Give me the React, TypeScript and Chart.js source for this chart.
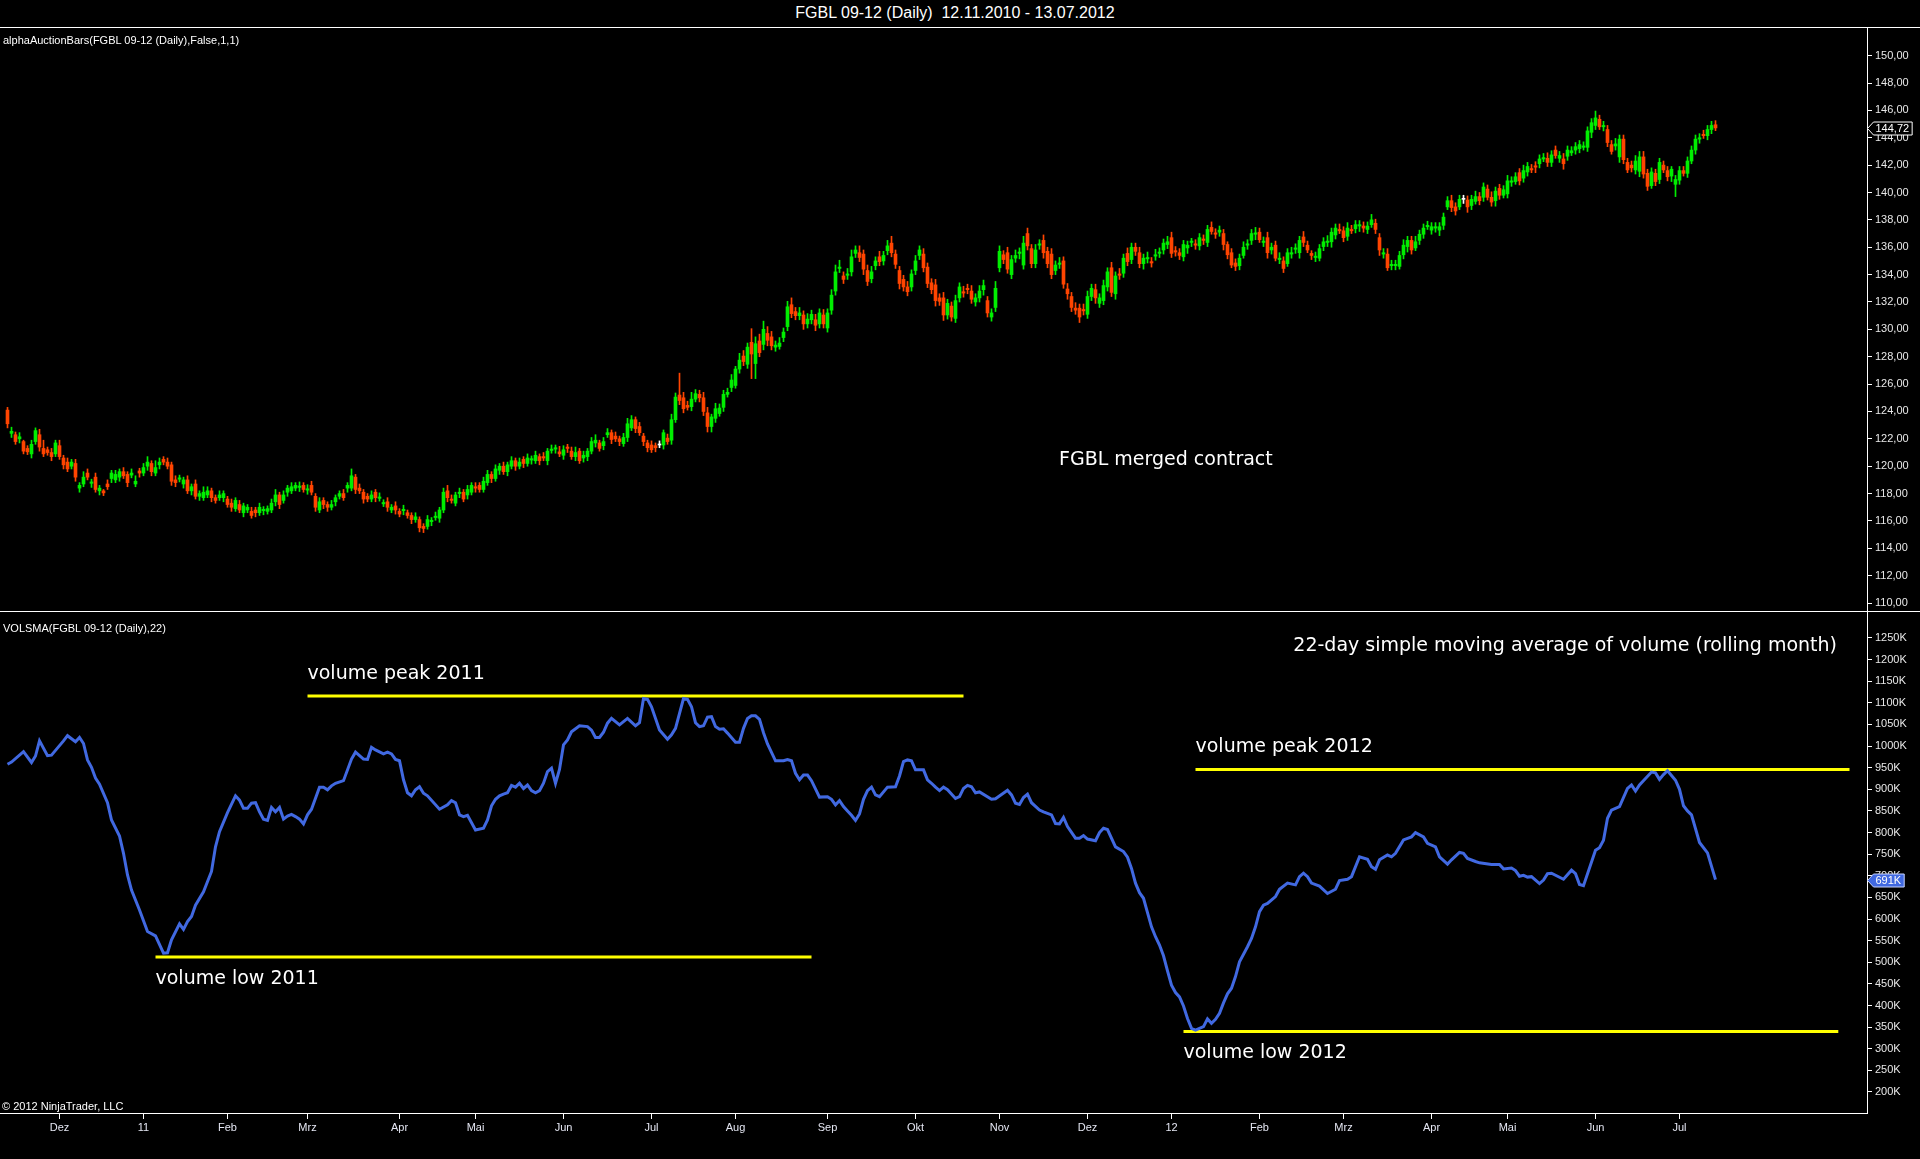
import React, { useEffect, useRef } from 'react';
import { Chart, registerables } from 'chart.js';

Chart.register(...registerables);

// trading days per month, Nov 2010 (from the 12th) .. Jul 2012 (to the 13th)
const daysPerMonth = [13, 21, 21, 20, 23, 19, 22, 22, 21, 23, 22, 21, 22, 21, 22, 21, 22, 19, 22, 21, 10];
const monthLabels = ['Dez', '11', 'Feb', 'Mrz', 'Apr', 'Mai', 'Jun', 'Jul', 'Aug', 'Sep', 'Okt', 'Nov', 'Dez', '12', 'Feb', 'Mrz', 'Apr', 'Mai', 'Jun', 'Jul'];

const priceTicks = [110, 112, 114, 116, 118, 120, 122, 124, 126, 128, 130, 132, 134, 136, 138, 140, 142, 144, 146, 148, 150];
const volumeTicks = [200, 250, 300, 350, 400, 450, 500, 550, 600, 650, 700, 750, 800, 850, 900, 950, 1000, 1050, 1100, 1150, 1200, 1250];

// daily FGBL opens / closes
const opens = [
  124.1, 122.4, 122.3, 122.0, 121.8, 121.3, 120.9, 121.8, 122.3, 121.3, 121.2, 121.0, 120.9, 121.5, 120.6, 120.3, 120.0, 120.2, 118.4, 118.7,
  119.5, 118.75, 119.2, 118.2, 118.2, 118.7, 119.1, 119.0, 119.2, 119.6, 119.4, 119.35, 118.7, 119.65, 119.5, 120.0, 120.2, 119.5, 120.1, 120.5,
  120.3, 120.1, 119.0, 119.05, 118.7, 119.0, 118.2, 118.7, 117.8, 117.7, 117.9, 118.2, 117.7, 117.7, 117.7, 117.6, 117.3, 116.9, 117.2, 116.6,
  116.8, 116.7, 116.8, 116.6, 116.75, 116.7, 116.8, 117.4, 117.9, 117.5, 118.1, 118.2, 118.4, 118.45, 118.6, 118.25, 118.6, 117.8, 116.8, 117.5,
  117.2, 117.0, 117.4, 117.8, 118.0, 118.4, 118.4, 119.2, 118.4, 118.1, 117.8, 117.6, 118.1, 117.65, 117.25, 117.4, 116.8, 117.1, 116.7, 116.75,
  116.6, 116.4, 116.1, 116.1, 115.6, 115.6, 115.95, 116.25, 116.2, 116.8, 118.2, 117.6, 117.3, 118.0, 118.1, 117.9, 118.1, 118.5, 118.6, 118.3,
  118.8, 119.4, 119.1, 119.7, 120.0, 119.6, 120.0, 120.4, 120.0, 120.5, 120.2, 120.45, 120.4, 120.7, 120.7, 120.4, 121.15, 121.25, 121.05, 120.8,
  121.4, 121.1, 120.7, 121.1, 120.6, 120.7, 121.1, 121.7, 121.7, 121.5, 122.3, 122.45, 122.2, 122.0, 121.65, 122.1, 122.8, 123.4, 122.9, 122.2,
  121.7, 121.55, 121.5, 121.55, 121.55, 122.05, 121.9, 123.4, 125.2, 125.0, 124.45, 124.35, 124.9, 125.25, 125.0, 123.9, 122.9, 123.5, 123.85, 124.3,
  125.25, 125.75, 125.9, 127.1, 128.05, 127.45, 129.05, 127.5, 129.15, 128.9, 129.7, 129.45, 128.7, 128.75, 129.4, 130.2, 131.8, 131.3, 131.0, 131.05,
  130.4, 130.7, 130.7, 130.4, 131.05, 130.1, 131.4, 132.8, 134.45, 133.9, 133.95, 134.2, 135.55, 135.6, 135.5, 134.3, 133.7, 134.65, 135.3, 135.0,
  135.75, 136.3, 135.5, 134.3, 133.65, 133.1, 133.1, 134.3, 135.4, 135.5, 134.55, 133.4, 133.25, 132.3, 132.3, 131.05, 131.7, 130.8, 132.3, 132.75,
  133.0, 132.8, 132.0, 132.3, 132.9, 132.1, 130.9, 131.6, 134.5, 135.45, 135.6, 134.0, 135.2, 135.55, 134.7, 137.0, 135.9, 134.8, 136.15, 136.5,
  135.7, 135.5, 134.3, 134.75, 135.0, 132.95, 132.4, 131.55, 131.55, 131.45, 131.1, 132.4, 132.9, 131.9, 132.1, 133.1, 134.5, 132.6, 134.05, 134.1,
  135.55, 135.1, 136.0, 135.6, 134.8, 135.15, 134.95, 135.35, 135.55, 135.8, 136.2, 136.7, 135.75, 135.6, 135.3, 135.95, 136.35, 136.25, 136.1, 136.6,
  136.35, 137.45, 137.05, 137.1, 137.0, 136.2, 135.6, 134.85, 134.65, 135.4, 136.15, 136.5, 136.95, 137.1, 136.35, 136.7, 135.8, 136.15, 135.1, 135.0,
  134.8, 135.5, 135.85, 135.6, 136.75, 136.15, 135.55, 135.25, 135.2, 136.05, 136.35, 136.4, 136.9, 137.3, 137.2, 136.8, 137.3, 137.35, 137.55, 137.55,
  137.3, 137.65, 137.75, 136.7, 135.5, 135.5, 134.65, 134.65, 134.6, 135.45, 136.05, 136.5, 135.95, 136.5, 136.95, 137.5, 137.25, 137.4, 137.25, 137.6,
  138.95, 139.4, 138.95, 138.95, 139.5, 139.45, 139.05, 139.35, 139.7, 139.65, 140.25, 139.65, 139.4, 140.3, 139.8, 139.9, 140.75, 140.8, 141.45, 141.05,
  141.5, 141.75, 141.95, 142.1, 142.45, 142.5, 142.2, 143.1, 142.5, 142.45, 142.65, 142.9, 143.1, 143.2, 143.3, 143.3, 144.4, 144.9, 145.35, 144.8,
  144.6, 143.5, 143.4, 142.6, 143.9, 142.2, 142.0, 141.65, 141.55, 142.6, 141.4, 140.5, 141.4, 140.95, 142.0, 141.6, 141.2, 140.6, 140.9, 141.6,
  141.4, 142.3, 143.1, 143.9, 144.25, 144.15, 144.6, 144.95,
];

const closes = [
  123.1, 122.55, 121.8, 122.15, 121.1, 121.05, 121.6, 122.6, 121.4, 120.9, 121.0, 120.7, 121.7, 120.7, 120.1, 119.8, 120.3, 119.2, 118.6, 119.2,
  119.2, 118.85, 118.3, 118.4, 118.05, 118.5, 119.5, 119.4, 119.6, 119.3, 118.8, 119.5, 118.9, 119.5, 119.9, 120.3, 119.6, 119.9, 120.3, 120.3,
  120.0, 118.9, 118.8, 119.15, 119.0, 118.2, 118.5, 117.8, 118.0, 118.1, 118.2, 117.7, 117.5, 117.9, 118.0, 117.2, 117.0, 117.5, 116.8, 117.1,
  117.0, 116.4, 116.6, 117.0, 116.85, 116.9, 117.3, 117.9, 117.2, 117.9, 118.4, 118.5, 118.6, 118.55, 118.3, 118.35, 118.1, 117.0, 117.4, 117.2,
  117.0, 117.2, 117.7, 118.0, 117.7, 118.6, 119.3, 118.3, 118.2, 117.6, 117.6, 117.9, 117.7, 117.75, 117.35, 117.0, 117.0, 116.8, 116.5, 116.85,
  116.4, 116.1, 116.3, 115.5, 115.45, 116.1, 116.05, 116.35, 116.8, 118.1, 117.7, 117.5, 117.9, 118.1, 117.6, 118.3, 118.6, 118.4, 118.3, 118.9,
  119.4, 119.1, 119.8, 120.0, 119.6, 120.1, 120.4, 120.0, 120.3, 120.2, 120.6, 120.55, 120.8, 120.4, 120.6, 121.1, 121.25, 121.35, 120.9, 121.2,
  121.3, 120.7, 121.0, 120.4, 120.8, 121.1, 121.8, 121.9, 121.3, 121.8, 122.45, 121.95, 122.0, 121.8, 122.1, 123.1, 123.4, 122.75, 122.45, 121.8,
  121.35, 121.2, 121.35, 121.55, 122.45, 121.8, 123.4, 125.05, 124.8, 124.2, 124.3, 124.9, 125.3, 125.0, 124.0, 122.9, 123.6, 124.2, 124.25, 125.25,
  125.4, 126.3, 127.1, 127.75, 127.65, 128.7, 128.2, 128.95, 128.3, 130.0, 129.2, 128.8, 128.85, 129.0, 129.8, 131.65, 131.15, 131.0, 131.2, 130.4,
  130.75, 131.1, 130.3, 131.2, 130.4, 131.2, 132.5, 134.2, 134.55, 133.65, 134.05, 135.3, 135.8, 135.25, 134.4, 133.5, 134.2, 135.0, 134.95, 135.4,
  136.1, 135.6, 134.75, 133.35, 133.1, 132.75, 134.05, 135.0, 135.8, 134.5, 133.35, 132.9, 132.1, 132.05, 131.05, 131.9, 130.9, 132.1, 133.1, 132.65,
  132.9, 132.2, 132.3, 132.8, 133.2, 131.2, 131.2, 133.0, 135.7, 135.1, 134.4, 135.1, 135.4, 135.65, 136.3, 136.1, 134.8, 135.8, 136.25, 135.6,
  134.8, 134.0, 134.7, 134.85, 133.3, 132.6, 131.6, 131.4, 130.9, 131.35, 132.4, 133.0, 132.3, 132.3, 133.2, 134.2, 132.7, 133.9, 133.95, 135.2,
  134.95, 136.0, 135.7, 134.8, 135.2, 135.25, 134.85, 135.45, 135.65, 136.3, 136.4, 135.55, 135.65, 135.4, 136.2, 136.15, 136.45, 136.15, 136.7, 136.5,
  137.3, 137.15, 136.95, 137.25, 136.2, 135.45, 134.7, 134.6, 135.2, 136.0, 136.25, 137.0, 137.05, 136.55, 136.45, 135.6, 136.0, 135.2, 135.2, 134.45,
  135.6, 135.6, 135.95, 136.5, 136.35, 135.8, 135.4, 135.35, 135.9, 136.4, 136.45, 137.1, 137.4, 137.2, 136.7, 137.4, 137.2, 137.65, 137.65, 137.4,
  137.55, 138.0, 137.3, 135.8, 135.6, 134.5, 134.75, 134.75, 135.4, 136.15, 136.5, 135.8, 136.4, 136.95, 137.4, 137.6, 137.5, 137.5, 137.5, 138.2,
  139.4, 138.9, 138.65, 139.5, 139.5, 138.95, 139.5, 139.7, 139.4, 140.4, 139.65, 139.3, 140.1, 139.8, 140.2, 140.85, 140.85, 141.15, 140.85, 141.6,
  141.9, 141.65, 141.85, 142.45, 142.55, 142.2, 142.75, 142.7, 142.7, 142.1, 143.1, 143.05, 143.35, 143.5, 143.4, 144.5, 145.1, 145.45, 144.8, 144.9,
  143.65, 143.0, 143.55, 143.9, 142.4, 141.65, 141.8, 142.3, 142.6, 141.35, 140.45, 141.5, 140.8, 142.2, 141.65, 141.15, 141.7, 140.95, 141.6, 141.4,
  142.3, 143.1, 143.9, 144.0, 144.15, 144.6, 144.9, 144.72,
];

// wick lengths above / below the body, tenths of a point
const wickUp = [
  2, 3, 2, 3, 1, 2, 3, 2, 4, 6, 2, 3, 2, 4, 2, 3, 2, 3, 2, 4,
  3, 2, 3, 2, 1, 3, 2, 3, 2, 3, 2, 3, 4, 2, 3, 4, 2, 5, 3, 2,
  3, 2, 3, 2, 2, 3, 2, 3, 2, 4, 3, 2, 2, 3, 2, 2, 3, 2, 3, 2,
  2, 3, 2, 3, 2, 2, 3, 4, 2, 3, 2, 3, 2, 3, 2, 3, 3, 2, 3, 2,
  2, 3, 2, 2, 3, 2, 5, 2, 3, 2, 2, 3, 2, 3, 2, 3, 2, 3, 2, 3,
  2, 2, 3, 2, 2, 3, 2, 3, 2, 3, 4, 3, 2, 3, 2, 3, 2, 3, 2, 3,
  3, 2, 3, 2, 3, 2, 3, 2, 3, 2, 3, 2, 3, 2, 3, 2, 3, 2, 4, 3,
  2, 3, 4, 2, 3, 2, 3, 4, 2, 3, 3, 2, 3, 2, 3, 4, 3, 2, 3, 2,
  2, 3, 2, 3, 2, 3, 4, 3, 16, 4, 3, 5, 3, 3, 4, 4, 2, 4, 3, 3,
  3, 4, 2, 5, 4, 3, 10, 5, 5, 6, 5, 4, 3, 4, 3, 4, 5, 3, 4, 3,
  4, 3, 4, 3, 4, 3, 4, 5, 5, 3, 4, 5, 3, 5, 3, 4, 4, 3, 4, 3,
  4, 5, 3, 3, 3, 4, 3, 4, 3, 4, 3, 3, 4, 3, 4, 3, 3, 4, 3, 4,
  3, 4, 3, 4, 4, 3, 3, 5, 4, 3, 4, 3, 4, 3, 5, 4, 3, 4, 3, 4,
  3, 4, 3, 4, 3, 4, 3, 4, 3, 4, 4, 3, 4, 3, 4, 3, 4, 3, 4, 3,
  4, 3, 3, 4, 3, 4, 3, 4, 3, 3, 4, 4, 3, 3, 3, 3, 2, 3, 3, 3,
  3, 4, 3, 3, 3, 2, 3, 3, 3, 4, 3, 3, 4, 3, 3, 4, 3, 3, 4, 3,
  3, 4, 3, 3, 4, 3, 2, 3, 3, 3, 4, 3, 3, 4, 3, 4, 3, 3, 3, 3,
  3, 4, 3, 3, 3, 4, 3, 3, 3, 4, 3, 3, 4, 3, 3, 3, 3, 3, 3, 3,
  3, 4, 3, 3, 3, 3, 3, 4, 3, 3, 3, 4, 3, 3, 3, 4, 3, 3, 3, 4,
  3, 3, 3, 3, 3, 4, 3, 3, 3, 4, 3, 3, 3, 3, 3, 3, 3, 5, 3, 3,
  3, 3, 4, 3, 3, 3, 3, 4, 4, 4, 3, 3, 3, 3, 3, 3, 2, 3, 3, 3,
  3, 3, 3, 3, 3, 3, 3, 3,
];

const wickDown = [
  3, 3, 2, 3, 2, 2, 3, 2, 3, 2, 2, 3, 2, 2, 3, 2, 2, 3, 3, 2,
  2, 3, 2, 3, 2, 2, 3, 2, 3, 2, 3, 2, 2, 3, 2, 3, 3, 2, 3, 2,
  2, 3, 3, 2, 3, 2, 3, 2, 3, 2, 2, 3, 2, 2, 3, 2, 3, 2, 2, 3,
  2, 2, 3, 2, 3, 2, 2, 3, 3, 2, 3, 2, 2, 3, 2, 3, 2, 3, 2, 3,
  3, 2, 3, 2, 2, 3, 2, 3, 2, 3, 2, 2, 3, 2, 2, 3, 2, 3, 2, 3,
  2, 3, 2, 3, 3, 2, 3, 2, 3, 2, 3, 2, 2, 3, 2, 3, 2, 3, 2, 2,
  2, 3, 2, 3, 2, 3, 2, 3, 2, 3, 2, 3, 2, 3, 2, 3, 2, 3, 2, 3,
  3, 2, 3, 2, 3, 3, 2, 3, 2, 3, 2, 3, 2, 3, 2, 3, 2, 3, 2, 3,
  3, 2, 3, 2, 3, 2, 3, 2, 3, 3, 2, 3, 2, 3, 3, 4, 4, 3, 2, 3,
  2, 3, 2, 3, 3, 3, 18, 11, 3, 4, 4, 3, 3, 2, 3, 3, 3, 3, 3, 4,
  3, 3, 4, 3, 3, 3, 3, 3, 3, 3, 3, 3, 3, 3, 4, 3, 3, 3, 3, 3,
  3, 3, 3, 4, 3, 3, 3, 3, 3, 3, 3, 3, 4, 3, 4, 3, 3, 3, 3, 3,
  3, 3, 3, 3, 4, 3, 3, 3, 3, 3, 3, 3, 3, 4, 3, 3, 3, 3, 3, 4,
  3, 3, 3, 3, 3, 4, 3, 3, 4, 3, 3, 3, 4, 3, 3, 3, 3, 4, 3, 3,
  3, 3, 3, 3, 4, 3, 3, 3, 3, 3, 3, 3, 3, 3, 3, 4, 3, 3, 3, 3,
  3, 2, 3, 3, 4, 3, 2, 3, 3, 2, 3, 3, 4, 2, 3, 4, 3, 2, 3, 3,
  2, 3, 3, 4, 3, 2, 3, 3, 2, 3, 3, 4, 3, 2, 3, 3, 2, 3, 4, 3,
  3, 2, 3, 4, 3, 2, 3, 3, 2, 3, 4, 3, 2, 3, 3, 2, 3, 3, 4, 3,
  2, 3, 3, 2, 3, 4, 3, 2, 3, 3, 2, 3, 4, 3, 2, 3, 3, 2, 3, 3,
  3, 2, 4, 3, 2, 3, 3, 2, 3, 4, 3, 2, 3, 3, 2, 3, 4, 3, 2, 3,
  3, 2, 3, 4, 3, 2, 3, 3, 4, 3, 3, 2, 3, 3, 2, 3, 4, 9, 3, 2,
  3, 2, 3, 3, 2, 3, 3, 2,
];

// 22-day SMA of volume, [bar index, thousands]
const volumeSma: [number, number][] = [
  [0, 958], [1, 963], [4, 987], [6, 962], [7, 977], [8, 1012], [10, 978], [11, 979], [12, 990], [14, 1012], [15, 1024], [17, 1010], [18, 1020], [19, 1006],
  [20, 968], [21, 951], [22, 926], [23, 912], [25, 869], [26, 829], [28, 792], [29, 752], [30, 702], [31, 667], [33, 621], [35, 571], [37, 561], [39, 521],
  [40, 522], [41, 552], [43, 589], [44, 576], [45, 594], [46, 606], [47, 632], [49, 663], [51, 710], [52, 767], [53, 802], [55, 846], [57, 885], [58, 875],
  [59, 856], [60, 856], [61, 868], [62, 869], [63, 848], [64, 831], [65, 828], [66, 858], [67, 848], [68, 858], [69, 831], [70, 838], [71, 842], [72, 837],
  [73, 831], [74, 820], [75, 841], [76, 854], [78, 905], [79, 905], [80, 899], [81, 908], [82, 914], [84, 920], [86, 970], [87, 986], [89, 970], [90, 969],
  [91, 997], [92, 991], [94, 982], [95, 986], [96, 982], [97, 969], [98, 966], [99, 922], [100, 892], [101, 885], [102, 899], [103, 906], [104, 891], [105, 885],
  [108, 854], [110, 864], [111, 874], [112, 869], [113, 841], [114, 837], [115, 840], [117, 806], [119, 810], [120, 829], [121, 862], [122, 877], [123, 885],
  [124, 889], [125, 892], [126, 909], [127, 905], [128, 914], [129, 902], [130, 910], [131, 897], [132, 892], [133, 897], [134, 914], [135, 941], [136, 949],
  [137, 914], [138, 946], [139, 1003], [140, 1014], [141, 1033], [143, 1047], [145, 1045], [146, 1037], [147, 1020], [148, 1020], [149, 1032], [150, 1053],
  [151, 1064], [153, 1049], [155, 1064], [157, 1047], [158, 1054], [159, 1110], [160, 1108], [161, 1091], [163, 1037], [165, 1016], [166, 1026], [167, 1041],
  [169, 1110], [170, 1108], [171, 1091], [172, 1054], [173, 1045], [174, 1047], [175, 1067], [176, 1068], [177, 1045], [178, 1039], [179, 1040], [180, 1030],
  [182, 1009], [183, 1009], [184, 1041], [185, 1064], [186, 1070], [187, 1070], [188, 1062], [189, 1031], [190, 1005], [192, 966], [194, 966], [195, 969],
  [196, 966], [197, 937], [198, 922], [199, 933], [200, 933], [201, 920], [203, 882], [205, 883], [206, 877], [207, 864], [208, 874], [209, 860], [210, 850],
  [211, 840], [212, 828], [213, 843], [214, 877], [215, 897], [216, 905], [217, 887], [218, 883], [220, 905], [222, 906], [223, 931], [224, 964], [225, 968],
  [226, 966], [227, 945], [229, 945], [230, 922], [231, 914], [232, 905], [233, 897], [234, 905], [235, 899], [237, 879], [238, 883], [239, 902], [240, 909],
  [241, 906], [242, 892], [243, 894], [246, 877], [247, 878], [250, 898], [251, 887], [252, 868], [253, 865], [254, 881], [255, 889], [256, 869], [258, 852],
  [259, 848], [261, 841], [262, 821], [263, 820], [264, 835], [265, 814], [267, 787], [268, 787], [269, 793], [270, 785], [272, 781], [273, 800], [274, 810],
  [275, 807], [277, 767], [279, 756], [280, 743], [281, 717], [282, 683], [283, 661], [284, 648], [285, 615], [286, 582], [287, 559], [288, 540], [289, 515],
  [290, 480], [291, 447], [292, 430], [293, 420], [294, 399], [295, 370], [296, 347], [297, 343], [299, 351], [300, 369], [301, 359], [302, 368], [303, 382],
  [304, 406], [305, 427], [306, 440], [307, 467], [308, 501], [310, 536], [311, 555], [312, 582], [313, 617], [314, 632], [315, 636], [317, 652], [318, 669],
  [320, 683], [322, 679], [323, 698], [324, 706], [325, 698], [326, 683], [328, 676], [330, 659], [332, 669], [333, 689], [335, 692], [336, 698], [338, 744],
  [340, 738], [341, 721], [342, 715], [343, 737], [345, 748], [346, 744], [347, 752], [349, 783], [351, 790], [352, 800], [354, 790], [355, 775], [357, 767],
  [358, 744], [360, 727], [361, 737], [363, 754], [364, 752], [365, 740], [367, 733], [368, 730], [371, 726], [373, 726], [374, 716], [376, 718], [377, 712],
  [378, 699], [379, 701], [380, 697], [381, 698], [383, 682], [384, 690], [385, 705], [386, 706], [389, 692], [391, 713], [392, 705], [393, 680], [394, 677],
  [397, 759], [398, 765], [399, 782], [400, 833], [401, 852], [403, 860], [405, 902], [406, 910], [407, 896], [408, 910], [411, 940], [412, 938], [413, 923],
  [414, 934], [415, 943], [417, 921], [418, 900], [419, 862], [420, 850], [421, 841], [423, 777], [425, 753], [427, 691],
];

// hand-drawn volume levels
const levelNames = ['volume peak 2011', 'volume low 2011', 'volume peak 2012', 'volume low 2012'];
const levelValues = [1116, 512, 946, 340];
const levelFrom = [75, 37, 297, 294];
const levelTo = [239, 201, 460.5, 457.7];
const levelAbove = [true, false, true, false];

const X_MIN = -1.875;
const X_MAX = 464.875;
const GREEN = '#00ee00';
const RED = '#ff4500';
const AXIS_FONT = { family: '"Liberation Sans", Arial, sans-serif', size: 11 };
const NOTE_FONT = '19px "DejaVu Sans", Verdana, sans-serif';

const monthStarts: number[] = [];
daysPerMonth.reduce((acc, n, k) => {
  if (k > 0) monthStarts.push(acc);
  return acc + n;
}, 0);

const candleColor = (i: number) =>
  closes[i] > opens[i] ? GREEN : closes[i] < opens[i] ? RED : '#ffffff';

const xAxis = (show: boolean): any => ({
  type: 'linear',
  min: X_MIN,
  max: X_MAX,
  offset: false,
  display: show,
  afterBuildTicks: (s: any) => {
    s.ticks = monthStarts.map((v) => ({ value: v }));
  },
  ticks: {
    autoSkip: false,
    maxRotation: 0,
    color: '#e4e6f2',
    font: AXIS_FONT,
    padding: 2,
    callback: (_v: any, idx: number) => monthLabels[idx],
  },
  grid: { offset: false, drawOnChartArea: false, drawTicks: true, tickLength: 6, color: '#ffffff' },
  border: { display: true, color: '#ffffff', width: 1 },
  afterFit: (s: any) => {
    s.height = show ? 46 : 0;
    s.paddingLeft = 0;
    s.paddingRight = 0;
  },
});

const yAxis = (min: number, max: number, ticks: number[], fmt: (v: number) => string): any => ({
  position: 'right',
  min,
  max,
  afterBuildTicks: (s: any) => {
    s.ticks = ticks.map((v) => ({ value: v }));
  },
  ticks: { color: '#e8e8e8', font: AXIS_FONT, padding: 3, callback: (v: number) => fmt(v) },
  grid: { drawOnChartArea: false, drawTicks: true, tickLength: 5, color: '#ffffff' },
  border: { display: true, color: '#ffffff', width: 1 },
  afterFit: (s: any) => {
    s.width = 53;
    s.paddingTop = 0;
    s.paddingBottom = 0;
  },
});

function drawTag(chart: any, value: number, text: string, fill: string, stroke: string) {
  const { ctx, chartArea } = chart;
  const y = Math.round(chart.scales.y.getPixelForValue(value)) + 0.5;
  const x0 = chartArea.right + 0.5;
  ctx.save();
  ctx.font = '11px "Liberation Sans", Arial, sans-serif';
  const w = ctx.measureText(text).width + 5;
  const h = 13;
  ctx.beginPath();
  ctx.moveTo(x0, y);
  ctx.lineTo(x0 + 6, y - h / 2);
  ctx.lineTo(x0 + 6 + w, y - h / 2);
  ctx.lineTo(x0 + 6 + w, y + h / 2);
  ctx.lineTo(x0 + 6, y + h / 2);
  ctx.closePath();
  ctx.fillStyle = fill;
  ctx.fill();
  ctx.strokeStyle = stroke;
  ctx.lineWidth = 1;
  ctx.stroke();
  ctx.fillStyle = '#ffffff';
  ctx.textBaseline = 'middle';
  ctx.fillText(text, x0 + 8, y + 0.5);
  ctx.restore();
}

const priceTagPlugin = {
  id: 'priceTag',
  afterDraw(chart: any) {
    const last = closes[closes.length - 1];
    drawTag(chart, last, last.toFixed(2).replace('.', ','), '#000000', '#ffffff');
  },
};

const volumePlugin = {
  id: 'volumeNotes',
  afterDatasetsDraw(chart: any) {
    const { ctx, scales } = chart;
    ctx.save();
    ctx.font = NOTE_FONT;
    ctx.fillStyle = '#ffffff';
    ctx.textBaseline = 'alphabetic';
    levelNames.forEach((name, k) => {
      const x = scales.x.getPixelForValue(levelFrom[k]);
      const y = scales.y.getPixelForValue(levelValues[k]);
      ctx.fillText(name, x, levelAbove[k] ? y - 17 : y + 27);
    });
    ctx.restore();
  },
  afterDraw(chart: any) {
    const last = volumeSma[volumeSma.length - 1][1];
    drawTag(chart, last, `${last}K`, '#4169e1', '#c8d4ff');
  },
};

const baseOptions = {
  responsive: false,
  animation: false as const,
  events: [],
  layout: { padding: 0 },
  plugins: { legend: { display: false }, tooltip: { enabled: false }, title: { display: false } },
};

export default function App() {
  const topRef = useRef<HTMLCanvasElement>(null);
  const bottomRef = useRef<HTMLCanvasElement>(null);

  useEffect(() => {
    document.body.style.margin = '0';
    document.body.style.background = '#000';
    if (!topRef.current || !bottomRef.current) return;

    const idx = opens.map((_, i) => i);
    const wicks = idx.map((i) => ({
      x: i,
      y: [
        Math.min(opens[i], closes[i]) - wickDown[i] / 10,
        Math.max(opens[i], closes[i]) + wickUp[i] / 10,
      ],
    }));
    const bodies = idx.map((i) => ({ x: i, y: [opens[i], closes[i]] }));

    const priceChart = new Chart(topRef.current, {
      type: 'bar',
      data: {
        datasets: [
          {
            data: wicks as any,
            backgroundColor: (c: any) => candleColor(c.dataIndex),
            barThickness: 1,
            grouped: false,
            borderWidth: 0,
            minBarLength: 1,
          },
          {
            data: bodies as any,
            backgroundColor: (c: any) => candleColor(c.dataIndex),
            barThickness: 3,
            grouped: false,
            borderWidth: 0,
            minBarLength: 1,
          },
        ],
      },
      options: {
        ...baseOptions,
        scales: {
          x: xAxis(false),
          y: yAxis(109.42, 152.02, priceTicks, (v) => v.toFixed(2).replace('.', ',')),
        },
      } as any,
      plugins: [priceTagPlugin],
    });

    const volumeChart = new Chart(bottomRef.current, {
      type: 'line',
      data: {
        datasets: [
          {
            data: volumeSma.map(([x, y]) => ({ x, y })),
            borderColor: '#4169e1',
            borderWidth: 3,
            pointRadius: 0,
            tension: 0,
            fill: false,
          },
          ...levelNames.map((_, k) => ({
            data: [
              { x: levelFrom[k], y: levelValues[k] },
              { x: levelTo[k], y: levelValues[k] },
            ],
            borderColor: '#ffff00',
            borderWidth: 3,
            borderCapStyle: 'butt' as const,
            pointRadius: 0,
            fill: false,
          })),
        ],
      },
      options: {
        ...baseOptions,
        scales: {
          x: xAxis(true),
          y: yAxis(151.4, 1310.1, volumeTicks, (v) => `${v}K`),
        },
      } as any,
      plugins: [volumePlugin],
    });

    return () => {
      priceChart.destroy();
      volumeChart.destroy();
    };
  }, []);

  const small: React.CSSProperties = {
    position: 'absolute',
    color: '#ffffff',
    fontSize: 11,
    lineHeight: '13px',
    whiteSpace: 'pre',
  };
  const note: React.CSSProperties = {
    position: 'absolute',
    color: '#ffffff',
    font: NOTE_FONT,
    lineHeight: '22px',
    whiteSpace: 'pre',
  };

  return (
    <div
      style={{
        position: 'fixed',
        left: 0,
        top: 0,
        width: 1920,
        height: 1159,
        background: '#000',
        overflow: 'hidden',
        fontFamily: '"Liberation Sans", Arial, sans-serif',
      }}
    >
      <div
        style={{
          position: 'absolute',
          left: 0,
          top: 0,
          width: 1910,
          height: 27,
          lineHeight: '26px',
          textAlign: 'center',
          color: '#ffffff',
          fontSize: 16,
          whiteSpace: 'pre',
        }}
      >
        FGBL 09-12 (Daily)  12.11.2010 - 13.07.2012
      </div>
      <div style={{ position: 'absolute', left: 0, top: 27, width: 1920, height: 1, background: '#ffffff' }} />
      <canvas ref={topRef} width={1920} height={583} style={{ position: 'absolute', left: 0, top: 28 }} />
      <div style={{ position: 'absolute', left: 0, top: 611, width: 1920, height: 1, background: '#ffffff' }} />
      <canvas ref={bottomRef} width={1920} height={547} style={{ position: 'absolute', left: 0, top: 612 }} />

      <div style={{ ...small, left: 3, top: 34 }}>alphaAuctionBars(FGBL 09-12 (Daily),False,1,1)</div>
      <div style={{ ...small, left: 3, top: 622 }}>VOLSMA(FGBL 09-12 (Daily),22)</div>
      <div style={{ ...small, left: 2, top: 1100 }}>© 2012 NinjaTrader, LLC</div>
      <div style={{ ...note, left: 1059, top: 447 }}>FGBL merged contract</div>
      <div style={{ ...note, right: 83, top: 633 }}>22-day simple moving average of volume (rolling month)</div>
    </div>
  );
}
